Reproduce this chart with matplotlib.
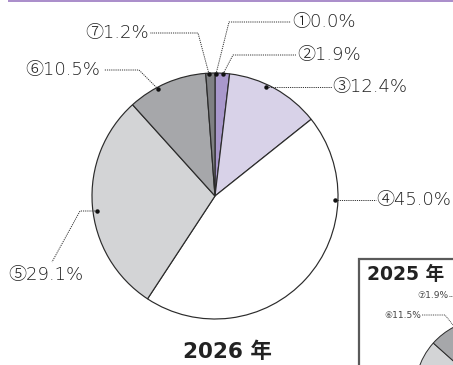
import matplotlib
matplotlib.use("Agg")
import matplotlib.pyplot as plt
import numpy as np

# ---- data ----
labels_2026 = ["①", "②", "③", "④", "⑤", "⑥", "⑦"]
values_2026 = [0.0, 1.9, 12.4, 45.0, 29.1, 10.5, 1.2]
colors = ["#8d7fb8", "#a998cc", "#d8d2e8", "#ffffff", "#d3d4d6", "#a6a7aa", "#7f8083"]
values_2025 = [0.0, 2.0, 12.0, 44.0, 28.6, 11.5, 1.9]   # only ⑥ and ⑦ readable
title_2026 = "2026 年"
title_2025 = "2025 年"

W, H = 453, 365
fig = plt.figure(figsize=(W / 100, H / 100), dpi=100)
ax = fig.add_axes([0, 0, 1, 1])

def Y(y):
    return H - y

FONT = ["DejaVu Sans", "Noto Sans CJK JP"]
TXT = "#1f1f1f"
LINE = "#333333"

# ---- main pie ----
cx, cy, R = 215, 196, 123
ax.pie(values_2026, colors=colors, startangle=90, counterclock=False,
       center=(cx, Y(cy)), radius=R, normalize=True,
       wedgeprops=dict(edgecolor="#2b2b2b", linewidth=0.85))

# leader lines: (label index, polyline points in image px, text x, ha)
leaders = [
    (0, [(216, 74), (229, 22), (291, 22)], 292, 22, "left"),
    (1, [(223, 74), (233, 55), (296, 55)], 297, 55, "left"),
    (2, [(266, 87), (332, 87)], 332, 87, "left"),
    (3, [(335, 200), (376, 200)], 376, 200, "left"),
    (4, [(97, 211), (80, 211), (52, 262)], 8, 275, "left"),
    (5, [(158, 89), (139, 70), (104, 70)], 100, 70, "right"),
    (6, [(209, 74), (198, 33), (150, 33)], 149, 33, "right"),
]
for i, pts, tx, ty, ha in leaders:
    xs = [p[0] for p in pts]
    ys = [Y(p[1]) for p in pts]
    ax.plot(xs, ys, color=LINE, lw=0.7, ls=(0, (1.2, 1.0)), zorder=5)
    ax.plot([xs[0]], [ys[0]], "o", color="#111111", ms=2.2, zorder=6)
    ax.text(tx, Y(ty), f"{labels_2026[i]}{values_2026[i]:.1f}%", ha=ha, va="center",
            fontsize=13, fontweight="light", color=TXT, family=FONT, zorder=7)

ax.text(227, Y(352), title_2026, ha="center", va="center", fontsize=15.5,
        fontweight="bold", color="#222222", family=FONT)

# ---- top purple rule ----
ax.plot([8, W], [Y(0.7), Y(0.7)], color="#a283c6", lw=1.3, solid_capstyle="butt")

# ---- inset 2025 ----
box = plt.Rectangle((358.7, Y(H + 20)), 200, (H + 20) - 258.7, facecolor="white",
                    edgecolor="#5a5a5a", linewidth=1.6, zorder=8)
ax.add_patch(box)
icx, icy, iR = 487, 391, 72
wedges, _ = ax.pie(values_2025, colors=colors, startangle=90, counterclock=False,
                   center=(icx, Y(icy)), radius=iR, normalize=True,
                   wedgeprops=dict(edgecolor="#2b2b2b", linewidth=0.7))
for w in wedges:
    w.set_zorder(9)
    w.set_clip_path(box)

ax.text(367, Y(275), title_2025, ha="left", va="center", fontsize=13.5,
        fontweight="bold", color="#222222", family=FONT, zorder=10)
ax.text(448, Y(296), f"{labels_2026[6]}{values_2025[6]:.1f}%", ha="right", va="center",
        fontsize=6.5, color="#444444", family=FONT, zorder=10)
ax.plot([449, W], [Y(296), Y(296)], color=LINE, lw=0.6, ls=(0, (1.2, 1.0)), zorder=10)
ax.text(421, Y(315), f"{labels_2026[5]}{values_2025[5]:.1f}%", ha="right", va="center",
        fontsize=6.5, color="#444444", family=FONT, zorder=10)
ax.plot([422, 445, 453], [Y(315), Y(315), Y(325)], color=LINE, lw=0.6,
        ls=(0, (1.2, 1.0)), zorder=10)

ax.set_xlim(0, W)
ax.set_ylim(0, H)
ax.set_aspect("auto")
ax.axis("off")

fig.savefig("out.png", dpi=100)
